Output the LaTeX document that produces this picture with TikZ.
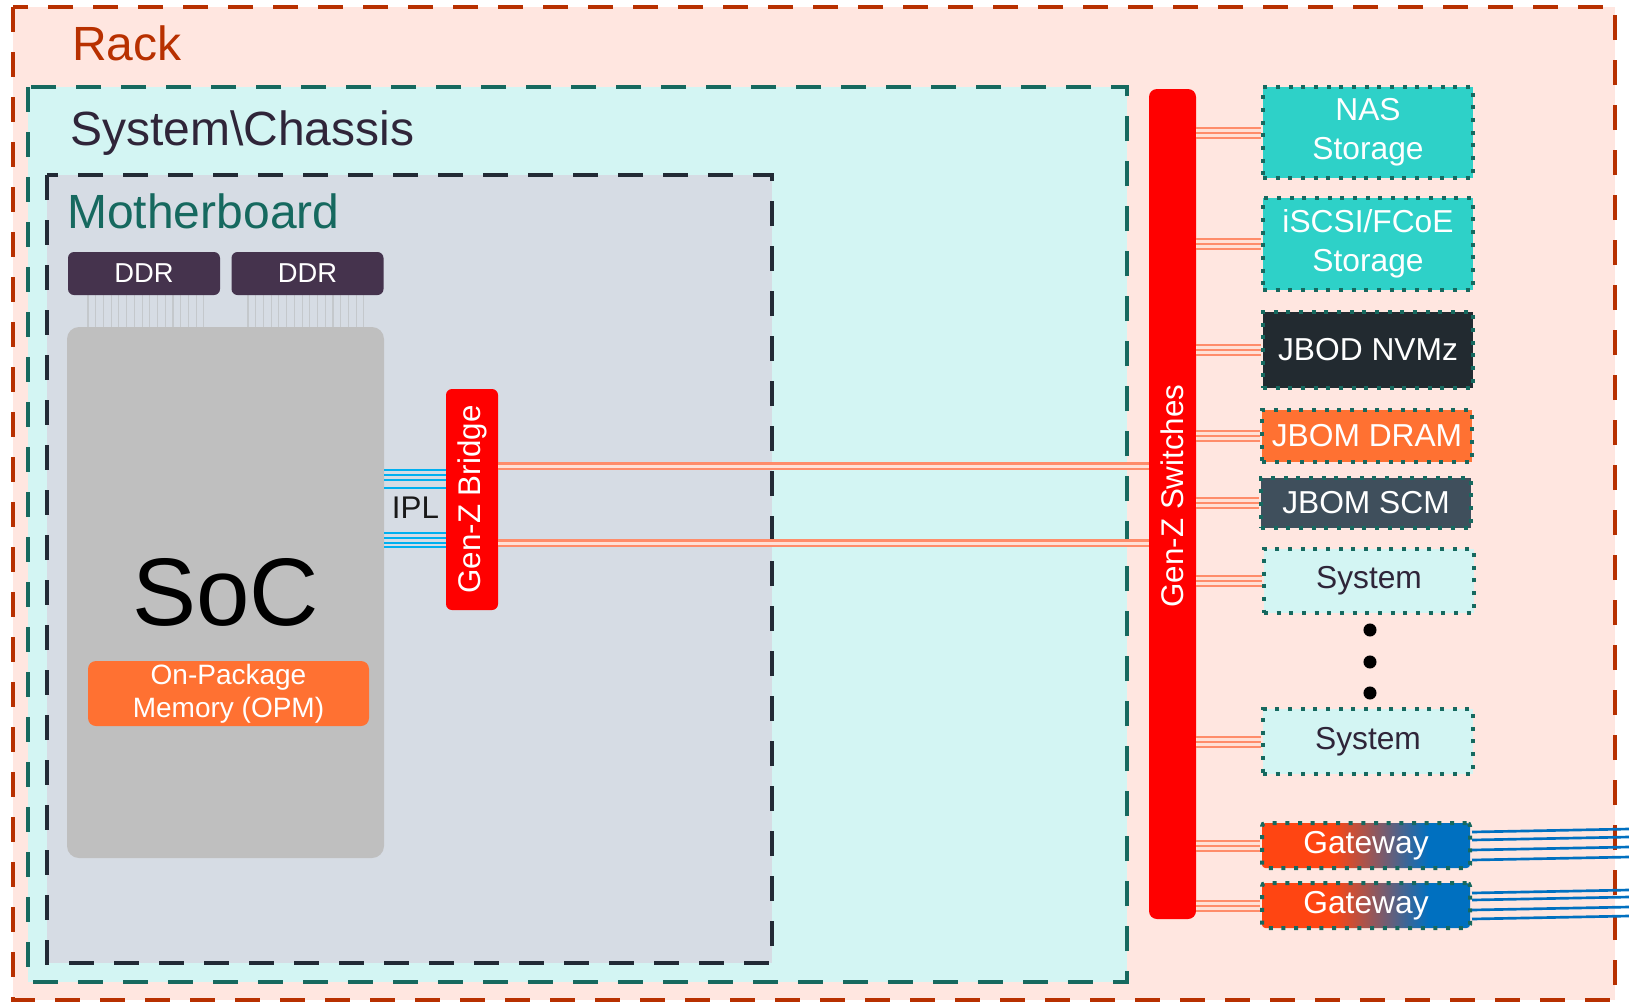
\documentclass[tikz,border=0pt]{standalone}
\usepackage{fontspec}
\usepackage{graphicx}
\setmainfont{Liberation Sans}
\usetikzlibrary{calc}
\definecolor{rackfill}{HTML}{FFE6E0}
\definecolor{rackline}{HTML}{B83000}
\definecolor{chfill}{HTML}{D3F5F3}
\definecolor{tealc}{HTML}{16695F}
\definecolor{mbfill}{HTML}{D6DCE4}
\definecolor{mbline}{HTML}{222A35}
\definecolor{ddrc}{HTML}{45334D}
\definecolor{socc}{HTML}{BFBFBF}
\definecolor{opmc}{HTML}{FF7132}
\definecolor{turq}{HTML}{2ED1C8}
\definecolor{jbodc}{HTML}{222A30}
\definecolor{scmc}{HTML}{3F4F5C}
\definecolor{txtdark}{HTML}{2F2539}
\definecolor{iplc}{HTML}{00B0F0}
\definecolor{gwblue}{HTML}{0070C0}
\definecolor{gwor}{HTML}{FF4512}
\definecolor{sal}{HTML}{FF8C6A}
\definecolor{palesal}{HTML}{FFE0D6}
\definecolor{pinc}{HTML}{C4C8CC}
\definecolor{zred}{HTML}{FF0000}
\pgfdeclarehorizontalshading{gwshade}{100bp}{color(0bp)=(gwor); color(42bp)=(gwor); color(65bp)=(gwblue); color(100bp)=(gwblue)}
\newcommand\biglabel{\fontsize{36}{43}\selectfont}
\newcommand\boxfont{\fontsize{23.8}{29}\selectfont}
\begin{document}
\begin{tikzpicture}[x=0.75pt,y=-0.75pt,
  dashbox/.style={line width=3pt, dash pattern=on 18.75pt off 15pt},
  lbl/.style={anchor=base west, inner sep=0pt, font=\biglabel},
  ddr/.style={rectangle, rounded corners=4.5pt, fill=ddrc, text=white, inner sep=0pt,
    font=\fontsize{20.5}{24}\selectfont, minimum width=114pt, minimum height=32.25pt},
  soc/.style={rectangle, rounded corners=9pt, fill=socc, inner sep=0pt,
    minimum width=237.75pt, minimum height=398.25pt, font=\fontsize{72}{86}\selectfont},
  opm/.style={rectangle, rounded corners=6pt, fill=opmc, text=white, inner sep=0pt, align=center,
    minimum width=210.75pt, minimum height=48.75pt, font=\fontsize{21}{24.75}\selectfont},
  redbar/.style={rectangle, fill=zred, text=white, inner sep=0pt, font=\fontsize{23.5}{28}\selectfont},
  rbox/.style={rectangle, inner sep=0pt, align=center, font=\boxfont, text=white,
    draw=tealc, line width=3pt, dash pattern=on 3pt off 6.5pt, minimum width=157.5pt},
  gw/.style={rbox, shading=gwshade, rounded corners=2.5pt, minimum width=156pt, minimum height=33.75pt},
  ipl/.style={draw=iplc, line width=1.9pt},
  dbl/.style={draw=sal, double=palesal, line width=1.6pt, double distance=2.25pt},
  triple/.style={draw=sal, line width=1.5pt,
    preaction={draw=sal, double=palesal, double distance=6pt, line width=1.5pt}},
  gwl/.style={draw=gwblue, line width=2pt},
  pin/.style={draw=pinc, line width=0.8pt}]
\useasboundingbox (0,0) rectangle (1629,1004);
\fill[white] (0,0) rectangle (1629,1004);
% containers
\draw[dashbox, draw=rackline, fill=rackfill] (13,7) rectangle (1615,1000);
\node[lbl, text=rackline] (racklbl) at (72,60) {Rack};
\draw[dashbox, draw=tealc, fill=chfill] (28,87) rectangle (1127,982);
\node[lbl, text=txtdark] (chlbl) at (70,145) {System\textbackslash Chassis};
\draw[dashbox, draw=mbline, fill=mbfill] (47,175) rectangle (772,963);
\node[lbl, text=tealc] (mblbl) at (67,228) {Motherboard};
% pins
\foreach \i in {0,...,15} {
  \draw[pin] (88+\i*7.73,295) -- (88+\i*7.73,328);
  \draw[pin] (248+\i*7.73,295) -- (248+\i*7.73,328);
}
% motherboard parts
\node[ddr] (ddr1) at (144,273.5) {DDR};
\node[ddr] (ddr2) at (307.5,273.5) {DDR};
\node[soc] (soc) at (225.5,592.5) {SoC};
\node[opm] (opm) at (228.5,693.5) {On-Package\\Memory (OPM)};
\node[redbar, rounded corners=4.5pt, minimum width=39pt, minimum height=165.75pt] (br) at (472,499.5) {\rotatebox{90}{Gen-Z Bridge}};
\foreach \d in {470,475,480,488,533,538,543,547}
  \draw[ipl] (soc.east |- 0,\d) -- (br.west |- 0,\d);
\node[inner sep=0pt, text=black!90, font=\fontsize{23.5}{28}\selectfont] (ipllbl) at (415.5,508) {IPL};
% switch
\node[redbar, rounded corners=6pt, minimum width=35.25pt, minimum height=622.5pt] (sw) at (1172.5,504) {\rotatebox{90}{\hspace*{12pt}Gen-Z Switches}};
\draw[dbl] ($(br.east)+(0,-33.5)$) -- ($(sw.west)+(0,-38)$);
\draw[dbl] ($(br.east)+(0,43.5)$) -- ($(sw.west)+(0,39)$);
% right boxes
\node[rbox, fill=turq, minimum height=68.25pt] (nas) at (1368,132.5) {NAS\\Storage};
\node[rbox, fill=turq, minimum height=69pt] (iscsi) at (1368,244) {iSCSI/FCoE\\Storage};
\node[rbox, fill=jbodc, minimum height=57pt] (jbod) at (1368,350) {JBOD NVMz};
\node[rbox, fill=opmc, minimum height=39pt] (dram) at (1367,436) {JBOM DRAM};
\node[rbox, fill=scmc, minimum height=37.5pt] (scm) at (1366,503) {JBOM SCM};
\node[rbox, fill=chfill, text=txtdark, minimum height=48pt] (sys1) at (1369,581) {System};
\node[rbox, fill=chfill, text=txtdark, minimum height=48.75pt] (sys2) at (1368,741.5) {System};
\node[gw] (gw1) at (1366,845.5) {Gateway};
\node[gw] (gw2) at (1366,905.5) {Gateway};
\foreach \n in {nas,iscsi,jbod,dram,scm,sys1,sys2,gw1,gw2}
  \draw[triple] (sw.east |- \n.west) -- (\n.west);
% dots
\fill[black] (1370,630) circle (4.9pt);
\fill[black] (1370,662) circle (4.9pt);
\fill[black] (1370,693) circle (4.9pt);
% gateway links
\foreach \a/\b [count=\k] in {832/829,840/837,850/847,860/857} {
  \coordinate (ga\k) at (1629,\b);
  \draw[gwl] (gw1.east |- 0,\a) -- (ga\k);
}
\foreach \a/\b [count=\k] in {893/890,900/897,910/907,919/916} {
  \coordinate (gb\k) at (1629,\b);
  \draw[gwl] (gw2.east |- 0,\a) -- (gb\k);
}
\end{tikzpicture}
\end{document}
